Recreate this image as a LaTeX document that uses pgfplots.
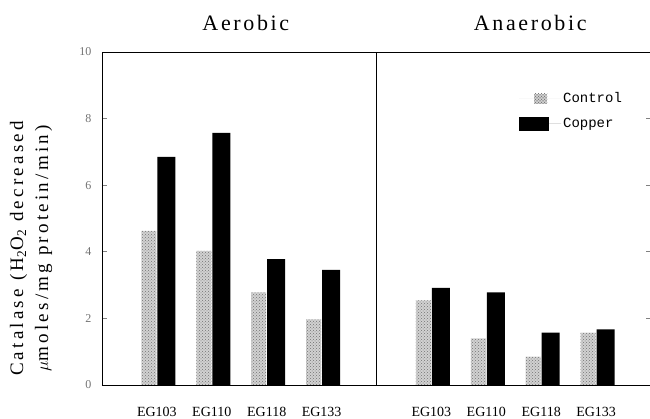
\documentclass[border=0pt]{standalone}
\usepackage{pgfplots}
\pgfplotsset{compat=1.18}
\usetikzlibrary{patterns}
\usepackage{fontspec}
\setmainfont{Liberation Serif}
\newfontfamily\titlefont[LetterSpace=12]{Liberation Serif}
\newfontfamily\labfont[LetterSpace=17]{Liberation Serif}
\newfontfamily\legfont{Liberation Mono}
\pgfplotstableread{
x ctrl copper
1 4.63 6.85
2 4.03 7.57
3 2.78 3.78
4 1.97 3.46
6 2.54 2.92
7 1.40 2.78
8 0.85 1.57
9 1.57 1.67
}\datatable
\begin{document}
\begin{tikzpicture}
\useasboundingbox (-102pt,-34pt) rectangle (548pt,385pt);
\clip (-102pt,-34pt) rectangle (548pt,385pt);
\begin{axis}[
  at={(0pt,0pt)}, anchor=south west,
  scale only axis, width=549pt, height=333pt,
  xmin=0, xmax=10, ymin=0, ymax=10,
  axis line style={line width=0.8pt},
  xtick={1,2,3,4,6,7,8,9},
  xticklabels={EG103,EG110,EG118,EG133,EG103,EG110,EG118,EG133},
  xtick style={draw=none},
  xticklabel style={font=\fontsize{14}{14}\selectfont, yshift=-19pt},
  ytick={0,2,4,6,8,10},
  tick align=inside, major tick length=5pt,
  ytick pos=both,
  ytick style={line width=0.7pt},
  /pgf/number format/assume math mode=true,
  yticklabel style={font=\fontsize{12}{12}\selectfont, text=black!55, xshift=-7pt},
  clip=false,
  legend style={draw=none, fill=none, font=\legfont\fontsize{14}{14}\selectfont,
    at={(rel axis cs:0.754,0.89)}, anchor=north west, row sep=10pt,
    cells={anchor=west}},
]
\addplot[ybar, bar width=15pt, bar shift=-8pt, draw=none, fill=black!18,
  postaction={pattern=crosshatch dots, pattern color=black!55},
  legend image code/.code={\path (0pt,0pt) -- (42pt,0pt);
    \fill[black!18] (15pt,-5pt) rectangle (28pt,5pt);
    \fill[pattern=crosshatch dots, pattern color=black!40] (15pt,-5pt) rectangle (28pt,5pt);}]
  table[x=x, y=ctrl] {\datatable};
\addlegendentry{Control}
\addplot[ybar, bar width=18pt, bar shift=9.5pt, draw=none, fill=black,
  legend image code/.code={\path (0pt,0pt) -- (42pt,0pt);
    \fill[black] (0pt,-7pt) rectangle (30pt,7pt);}]
  table[x=x, y=copper] {\datatable};
\addlegendentry{Copper}
\draw[line width=0.8pt] (axis cs:5,0) -- (axis cs:5,10);
\node[font=\titlefont\fontsize{22}{22}\selectfont] at (rel axis cs:0.262,1.086) {Aerobic};
\node[font=\titlefont\fontsize{22}{22}\selectfont] at (rel axis cs:0.78,1.086) {Anaerobic};
\node[font=\labfont\fontsize{19}{25}\selectfont, rotate=90, align=center]
  at (rel axis cs:-0.129,0.41) {Catalase (H\textsubscript{2}O\textsubscript{2} decreased\\ $\mu$moles/mg protein/min)};
\end{axis}
\end{tikzpicture}
\end{document}
